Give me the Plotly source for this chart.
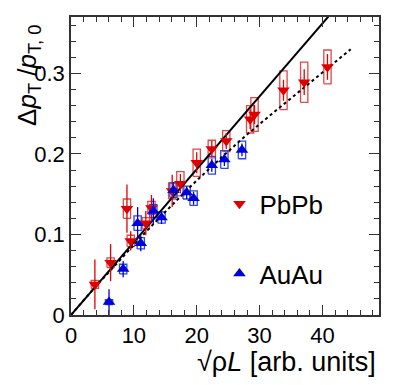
import numpy as np
import plotly.graph_objects as go

# PbPb points (red, down triangles)
pb_x = [3.8, 6.3, 8.9, 9.5, 11.9, 12.8, 16.1, 17.4, 20.0, 22.4, 24.7, 28.5, 29.2, 33.8, 37.1, 40.8]
pb_y = [0.038, 0.065, 0.132, 0.092, 0.114, 0.133, 0.154, 0.163, 0.189, 0.206, 0.216, 0.243, 0.249, 0.279, 0.289, 0.308]
pb_stat = [0.031, 0.023, 0.030, 0.012, 0.015, 0.016, 0.020, 0.012, 0.013, 0.010, 0.010, 0.012, 0.012, 0.013, 0.016, 0.016]
pb_sys = [0.005, 0.006, 0.012, 0.007, 0.007, 0.008, 0.010, 0.015, 0.017, 0.011, 0.013, 0.017, 0.021, 0.024, 0.025, 0.021]

# AuAu points (blue, up triangles)
au_x = [6.05, 8.3, 10.6, 11.1, 13.1, 14.4, 16.3, 18.4, 19.5, 22.4, 24.4, 27.2]
au_y = [0.016, 0.057, 0.114, 0.089, 0.129, 0.121, 0.155, 0.152, 0.145, 0.186, 0.193, 0.205]
au_stat = [0.016, 0.010, 0.020, 0.010, 0.016, 0.008, 0.010, 0.008, 0.008, 0.008, 0.008, 0.008]
au_sys = [0.003, 0.006, 0.009, 0.007, 0.008, 0.007, 0.009, 0.008, 0.009, 0.011, 0.011, 0.011]

# fit lines
lin_x = [0, 41.0]
lin_y = [0, 0.371]
dot_x = [0, 4, 8, 12, 16, 20, 24, 28, 32, 36, 40, 44.5]
dot_y = [0, 0.036, 0.070, 0.104, 0.136, 0.167, 0.196, 0.224, 0.250, 0.276, 0.301, 0.330]

RED = "#dd0000"
RED_BOX = "#e04848"
BLUE = "#0000dd"
BLUE_BOX = "#2848e0"
FONT = "Liberation Sans, Arial, sans-serif"

def boxes(xs, ys, hs, w=0.58):
   bx, by = [], []
   for x, y, h in zip(xs, ys, hs):
      bx += [x - w, x + w, x + w, x - w, x - w, None]
      by += [y - h, y - h, y + h, y + h, y - h, None]
   return bx, by

fig = go.Figure()

bx, by = boxes(pb_x, pb_y, pb_sys)
fig.add_trace(go.Scatter(x=bx, y=by, mode='lines', line=dict(color=RED_BOX, width=1.3),
                         showlegend=False, hoverinfo='skip'))
bx, by = boxes(au_x, au_y, au_sys)
fig.add_trace(go.Scatter(x=bx, y=by, mode='lines', line=dict(color=BLUE_BOX, width=1.3),
                         showlegend=False, hoverinfo='skip'))

fig.add_trace(go.Scatter(x=dot_x, y=dot_y, mode='lines', line=dict(color='black', width=2, dash='dot'),
                         showlegend=False))
fig.add_trace(go.Scatter(x=lin_x, y=lin_y, mode='lines', line=dict(color='black', width=2),
                         showlegend=False))

fig.add_trace(go.Scatter(x=pb_x, y=pb_y, mode='markers', name='PbPb', legendgroup='pb',
                         marker=dict(symbol='triangle-down', size=11, color=RED),
                         error_y=dict(type='data', array=pb_stat, color=RED, thickness=1.3, width=0)))
fig.add_trace(go.Scatter(x=au_x, y=au_y, mode='markers', name='AuAu', legendgroup='au',
                         marker=dict(symbol='triangle-up', size=11, color=BLUE),
                         error_y=dict(type='data', array=au_stat, color=BLUE, thickness=1.3, width=0)))

axis_common = dict(
   showgrid=False, zeroline=False, showline=True, linecolor='#333', linewidth=1.5,
   ticks='inside', ticklen=10, tickwidth=1.3, tickcolor='#333', mirror='ticks',
   tickfont=dict(family=FONT, size=22, color='black'),
)

# page body has an 8px margin, so the figure is sized to fit the 395x385 window
fig.update_layout(
   width=387, height=377,
   margin=dict(l=63, r=16, t=7, b=70),
   plot_bgcolor='white', paper_bgcolor='white',
   font=dict(family=FONT, color='black'),
   xaxis=dict(range=[0, 49], dtick=10, tick0=0,
              minor=dict(dtick=2, ticks='inside', ticklen=5, tickcolor='#333'),
              **axis_common),
   yaxis=dict(range=[0, 0.37], dtick=0.1, tick0=0,
              minor=dict(dtick=0.02, ticks='inside', ticklen=5, tickcolor='#333'),
              **axis_common),
   legend=dict(x=0.482, y=0.452, xanchor='left', yanchor='top', bgcolor='rgba(0,0,0,0)',
               font=dict(family=FONT, size=26), tracegroupgap=33, traceorder='grouped'),
   annotations=[
      dict(text="Δ<i>p</i><sub>T</sub> /<i>p</i><sub>T, 0</sub>", xref='paper', yref='paper',
           x=-0.138, y=0.98, xanchor='center', yanchor='top', textangle=-90, showarrow=False,
           font=dict(family=FONT, size=26)),
      dict(text="√ρ<i>L</i> [arb. units]",
           xref='paper', yref='paper', x=0.997, y=-0.158, xanchor='right', yanchor='middle',
           showarrow=False, font=dict(family=FONT, size=27)),
   ],
)

fig.write_html("out.html")
